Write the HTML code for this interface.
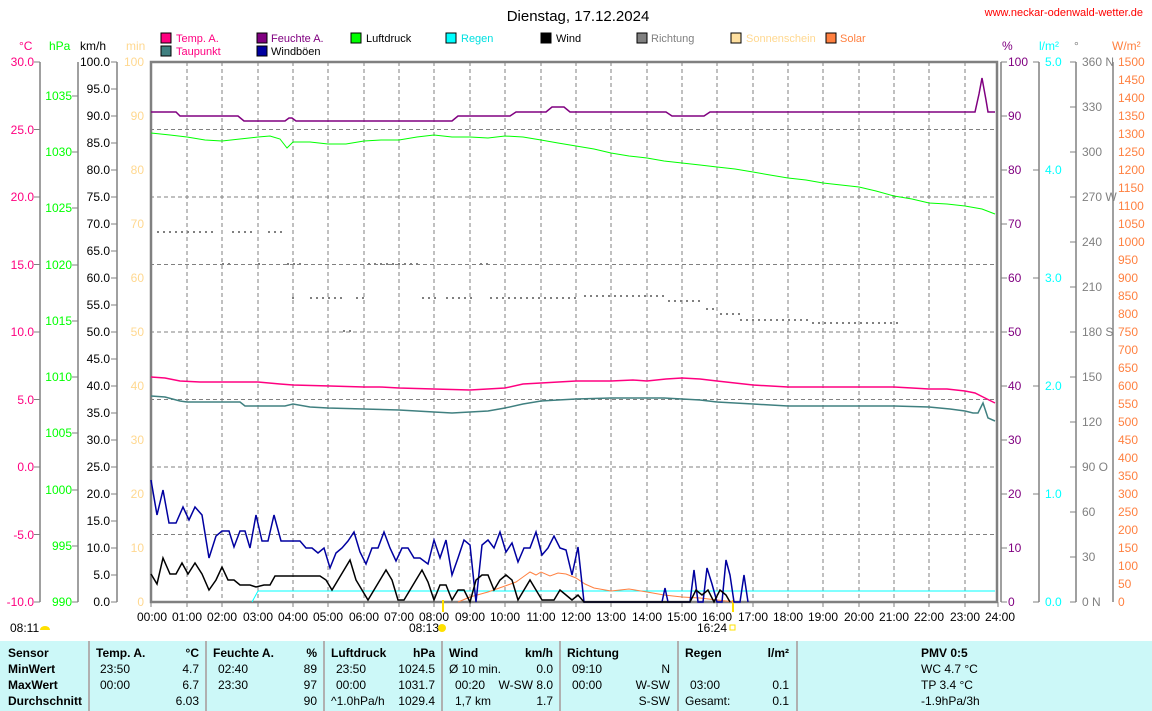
<!DOCTYPE html>
<html><head><meta charset="utf-8"><style>
body{margin:0;width:1152px;height:711px;background:#fff;overflow:hidden;font-family:"Liberation Sans",sans-serif}
svg{position:absolute;left:0;top:0}
text{font-family:"Liberation Sans",sans-serif;font-size:12px}
.tb{position:absolute;left:0;top:641px;width:1152px;height:70px;background:#ccf8f8;font-size:12px}
.c{position:absolute;top:0;height:70px;border-left:2px solid #b0b0b0}
.r{position:absolute;white-space:nowrap}
.b{font-weight:bold}
</style></head><body>
<svg width="1152" height="711" viewBox="0 0 1152 711">
<text x="578" y="21" font-size="15" text-anchor="middle" style="font-size:15px">Dienstag, 17.12.2024</text>
<text x="1143" y="16" text-anchor="end" fill="#ff0000" style="font-size:11px">www.neckar-odenwald-wetter.de</text>
<g style="font-size:11px">
<rect x="161" y="33" width="10" height="10" fill="#ff0080" stroke="#000"/><text x="176" y="42" fill="#ff0080" style="font-size:11px">Temp. A.</text>
<rect x="161" y="46" width="10" height="10" fill="#408080" stroke="#000"/><text x="176" y="55" fill="#ff0080" style="font-size:11px">Taupunkt</text>
<rect x="257" y="33" width="10" height="10" fill="#800080" stroke="#000"/><text x="271" y="42" fill="#800080" style="font-size:11px">Feuchte A.</text>
<rect x="257" y="46" width="10" height="10" fill="#0000a0" stroke="#000"/><text x="271" y="55" style="font-size:11px">Windböen</text>
<rect x="351" y="33" width="10" height="10" fill="#00ff00" stroke="#000"/><text x="366" y="42" style="font-size:11px">Luftdruck</text>
<rect x="446" y="33" width="10" height="10" fill="#00ffff" stroke="#000"/><text x="461" y="42" fill="#00e0e0" style="font-size:11px">Regen</text>
<rect x="541" y="33" width="10" height="10" fill="#000" stroke="#000"/><text x="556" y="42" style="font-size:11px">Wind</text>
<rect x="637" y="33" width="10" height="10" fill="#808080" stroke="#000"/><text x="651" y="42" fill="#808080" style="font-size:11px">Richtung</text>
<rect x="731" y="33" width="10" height="10" fill="#ffe0a0" stroke="#000"/><text x="746" y="42" fill="#ffd890" style="font-size:11px">Sonnenschein</text>
<rect x="826" y="33" width="10" height="10" fill="#ff8040" stroke="#000"/><text x="840" y="42" fill="#ff8040" style="font-size:11px">Solar</text>
</g>
<text x="19" y="50" fill="#ff0080">°C</text><text x="49" y="50" fill="#00ff00">hPa</text><text x="80" y="50">km/h</text><text x="126" y="50" fill="#ffd890">min</text>
<text x="1002" y="50" fill="#800080">%</text><text x="1039" y="50" fill="#00ffff">l/m²</text><text x="1074" y="50" fill="#808080">°</text><text x="1112" y="50" fill="#ff8040">W/m²</text>
<g stroke="#808080" stroke-width="1.5" fill="none">
<line x1="40" y1="62" x2="40" y2="602"/><line x1="78" y1="62" x2="78" y2="602"/><line x1="117" y1="62" x2="117" y2="602"/>
<line x1="1001" y1="62" x2="1001" y2="602"/><line x1="1039" y1="62" x2="1039" y2="602"/><line x1="1076" y1="62" x2="1076" y2="602"/><line x1="1113" y1="62" x2="1113" y2="602"/>
</g>
<g fill="#ff0080" text-anchor="end">
<text x="34" y="66">30.0</text><text x="34" y="134">25.0</text><text x="34" y="201">20.0</text><text x="34" y="269">15.0</text><text x="34" y="336">10.0</text><text x="34" y="404">5.0</text><text x="34" y="471">0.0</text><text x="34" y="539">-5.0</text><text x="34" y="606">-10.0</text></g>
<g stroke="#808080"><path d="M34 62h6M34 129.5h6M34 197h6M34 264.5h6M34 332h6M34 399.5h6M34 467h6M34 534.5h6M34 602h6M72 96h6M72 152h6M72 208h6M72 265h6M72 321h6M72 377h6M72 433h6M72 490h6M72 546h6M72 602h6"/></g>
<g fill="#00ff00" text-anchor="end">
<text x="72" y="100">1035</text><text x="72" y="156">1030</text><text x="72" y="212">1025</text><text x="72" y="269">1020</text><text x="72" y="325">1015</text><text x="72" y="381">1010</text><text x="72" y="437">1005</text><text x="72" y="494">1000</text><text x="72" y="550">995</text><text x="72" y="606">990</text></g>
<g text-anchor="end">
<text x="110" y="66">100.0</text><text x="110" y="93">95.0</text><text x="110" y="120">90.0</text><text x="110" y="147">85.0</text><text x="110" y="174">80.0</text><text x="110" y="201">75.0</text><text x="110" y="228">70.0</text><text x="110" y="255">65.0</text><text x="110" y="282">60.0</text><text x="110" y="309">55.0</text><text x="110" y="336">50.0</text><text x="110" y="363">45.0</text><text x="110" y="390">40.0</text><text x="110" y="417">35.0</text><text x="110" y="444">30.0</text><text x="110" y="471">25.0</text><text x="110" y="498">20.0</text><text x="110" y="525">15.0</text><text x="110" y="552">10.0</text><text x="110" y="579">5.0</text><text x="110" y="606">0.0</text></g>
<path stroke="#808080" d="M111 62h6M111 89h6M111 116h6M111 143h6M111 170h6M111 197h6M111 224h6M111 251h6M111 278h6M111 305h6M111 332h6M111 359h6M111 386h6M111 413h6M111 440h6M111 467h6M111 494h6M111 521h6M111 548h6M111 575h6M111 602h6"/>
<g fill="#ffd890" text-anchor="end">
<text x="144" y="66">100</text><text x="144" y="120">90</text><text x="144" y="174">80</text><text x="144" y="228">70</text><text x="144" y="282">60</text><text x="144" y="336">50</text><text x="144" y="390">40</text><text x="144" y="444">30</text><text x="144" y="498">20</text><text x="144" y="552">10</text><text x="144" y="606">0</text></g>
<g fill="#800080">
<text x="1008" y="66">100</text><text x="1008" y="120">90</text><text x="1008" y="174">80</text><text x="1008" y="228">70</text><text x="1008" y="282">60</text><text x="1008" y="336">50</text><text x="1008" y="390">40</text><text x="1008" y="444">30</text><text x="1008" y="498">20</text><text x="1008" y="552">10</text><text x="1008" y="606">0</text></g>
<path stroke="#808080" d="M1001 62h6M1001 116h6M1001 170h6M1001 224h6M1001 278h6M1001 332h6M1001 386h6M1001 440h6M1001 494h6M1001 548h6M1001 602h6M1033 62h6M1033 170h6M1033 278h6M1033 386h6M1033 494h6M1033 602h6M1070 62h6M1070 107h6M1070 152h6M1070 197h6M1070 242h6M1070 287h6M1070 332h6M1070 377h6M1070 422h6M1070 467h6M1070 512h6M1070 557h6M1070 602h6"/>
<g fill="#00ffff">
<text x="1045" y="66">5.0</text><text x="1045" y="174">4.0</text><text x="1045" y="282">3.0</text><text x="1045" y="390">2.0</text><text x="1045" y="498">1.0</text><text x="1045" y="606">0.0</text></g>
<g fill="#808080">
<text x="1082" y="66">360 N</text><text x="1082" y="111">330</text><text x="1082" y="156">300</text><text x="1082" y="201">270 W</text><text x="1082" y="246">240</text><text x="1082" y="291">210</text><text x="1082" y="336">180 S</text><text x="1082" y="381">150</text><text x="1082" y="426">120</text><text x="1082" y="471">90  O</text><text x="1082" y="516">60</text><text x="1082" y="561">30</text><text x="1082" y="606">0   N</text></g>
<g fill="#ff8040" style="font-size:11.5px">
<text x="1118" y="66">1500</text><text x="1118" y="84">1450</text><text x="1118" y="102">1400</text><text x="1118" y="120">1350</text><text x="1118" y="138">1300</text><text x="1118" y="156">1250</text><text x="1118" y="174">1200</text><text x="1118" y="192">1150</text><text x="1118" y="210">1100</text><text x="1118" y="228">1050</text><text x="1118" y="246">1000</text><text x="1118" y="264">950</text><text x="1118" y="282">900</text><text x="1118" y="300">850</text><text x="1118" y="318">800</text><text x="1118" y="336">750</text><text x="1118" y="354">700</text><text x="1118" y="372">650</text><text x="1118" y="390">600</text><text x="1118" y="408">550</text><text x="1118" y="426">500</text><text x="1118" y="444">450</text><text x="1118" y="462">400</text><text x="1118" y="480">350</text><text x="1118" y="498">300</text><text x="1118" y="516">250</text><text x="1118" y="534">200</text><text x="1118" y="552">150</text><text x="1118" y="570">100</text><text x="1118" y="588">50</text><text x="1118" y="606">0</text></g>
<g stroke="#808080" stroke-dasharray="4,3">
<path d="M187 62V602M222 62V602M258 62V602M293 62V602M328 62V602M364 62V602M399 62V602M434 62V602M470 62V602M505 62V602M541 62V602M576 62V602M611 62V602M647 62V602M682 62V602M717 62V602M753 62V602M788 62V602M823 62V602M859 62V602M894 62V602M929 62V602M965 62V602"/>
<path d="M150 129.5H998M150 197H998M150 264.5H998M150 332H998M150 399.5H998M150 467H998M150 534.5H998"/>
</g>
<rect x="151" y="62" width="846" height="540" fill="none" stroke="#808080" stroke-width="2.5"/>
<path stroke="#808080" d="M151 602v5M187 602v5M222 602v5M258 602v5M293 602v5M328 602v5M364 602v5M399 602v5M434 602v5M470 602v5M505 602v5M541 602v5M576 602v5M611 602v5M647 602v5M682 602v5M717 602v5M753 602v5M788 602v5M823 602v5M859 602v5M894 602v5M929 602v5M965 602v5M998 602v5"/>
<g text-anchor="middle">
<text x="152" y="621">00:00</text><text x="187" y="621">01:00</text><text x="222" y="621">02:00</text><text x="258" y="621">03:00</text><text x="293" y="621">04:00</text><text x="328" y="621">05:00</text><text x="364" y="621">06:00</text><text x="399" y="621">07:00</text><text x="434" y="621">08:00</text><text x="470" y="621">09:00</text><text x="505" y="621">10:00</text><text x="541" y="621">11:00</text><text x="576" y="621">12:00</text><text x="611" y="621">13:00</text><text x="647" y="621">14:00</text><text x="682" y="621">15:00</text><text x="717" y="621">16:00</text><text x="753" y="621">17:00</text><text x="788" y="621">18:00</text><text x="823" y="621">19:00</text><text x="859" y="621">20:00</text><text x="894" y="621">21:00</text><text x="929" y="621">22:00</text><text x="965" y="621">23:00</text><text x="1000" y="621">24:00</text></g>
<text x="10" y="632">08:11</text><path d="M40 630a5 4 0 0 1 10 0z" fill="#ffe000"/>
<text x="409" y="632">08:13</text><circle cx="442" cy="628" r="4" fill="#ffe000"/>
<text x="697" y="632">16:24</text><rect x="730" y="625" width="5" height="5" fill="none" stroke="#ffe000"/>
<path stroke="#ffe000" stroke-width="2" d="M443 600v12M733 600v12"/>
<g stroke="#808080" stroke-width="2" stroke-dasharray="2,4" fill="none">
<path d="M157 232H217M232 232H254M268 232H284M222 264H232M258 264H264M287 264H304M368 264H420M480 264H490M292 298H296M310 298H342M356 298H364M422 298H440M446 298H472M490 298H576M584 296H664M668 301H704M706 309H716M720 314H740M740 320H810M812 323H902M343 331H354"/>
</g>
<polyline fill="none" stroke="#800080" stroke-width="1.5" points="151,112 176,112 180,116 238,116 244,121 285,121 289,118 292,118 296,121 452,121 458,116 510,116 516,112 546,112 552,107 564,107 570,112 666,112 672,116 704,116 710,112 975,112 979,94 982,78 986,100 988,112 995,112"/>
<polyline fill="none" stroke="#00ff00" stroke-width="1" points="151,133 170,135 187,137 205,140 222,141 240,139 258,137 270,136 280,139 287,148 293,142 310,142 328,144 346,144 364,141 381,140 399,140 417,137 434,135 452,137 470,137 488,138 505,136 523,137 541,140 558,143 576,146 594,149 611,153 629,156 647,158 664,161 682,163 700,165 717,167 735,169 753,172 770,175 788,178 806,180 823,183 841,185 859,187 876,191 894,196 912,199 929,203 947,204 965,206 982,209 995,214"/>
<polyline fill="none" stroke="#ff0080" stroke-width="1.5" points="151,377 165,378 180,381 200,382 258,382 280,384 293,385 330,386 364,387 380,387 399,388 434,389 470,390 505,388 523,384 541,383 576,381 611,381 633,380 647,381 666,379 682,378 700,379 717,381 753,385 788,387 859,387 894,387 912,388 929,389 947,389 965,391 975,393 985,398 995,403"/>
<polyline fill="none" stroke="#408080" stroke-width="1.5" points="151,396 165,397 180,401 187,402 240,402 245,406 285,406 293,404 310,407 328,408 364,409 399,410 434,412 452,413 470,412 488,411 505,408 523,404 541,401 558,400 576,399 611,398 647,398 664,398 682,399 700,400 717,402 753,404 788,406 859,406 894,406 929,407 950,409 965,411 973,413 978,413 983,403 988,418 995,421"/>
<polyline fill="none" stroke="#00ffff" stroke-width="1" points="252,602 258,591 995,591"/>
<polyline fill="none" stroke="#ff8040" stroke-width="1" points="458,602 470,597 488,592 505,586 516,582 523,577 530,572 536,575 541,572 550,576 558,573 566,574 576,578 585,584 594,588 611,591 629,589 647,592 664,595 682,597 700,598 717,600 735,602"/>
<polyline fill="none" stroke="#0000a0" stroke-width="1.5" points="151,480 157,515 163,490 169,523 176,523 183,507 189,520 195,507 202,515 209,558 216,536 222,531 229,531 234,547 240,531 245,531 250,548 256,515 262,541 268,541 274,515 281,541 288,541 300,541 306,548 312,548 318,553 324,548 330,568 336,553 342,548 348,541 354,532 360,552 366,564 372,548 378,548 384,532 390,548 396,561 402,548 408,548 414,558 420,558 428,564 434,540 440,558 446,540 452,575 458,558 464,540 470,545 476,602 482,545 488,540 494,548 500,532 506,552 512,543 518,562 524,548 530,548 536,532 542,555 548,548 554,536 560,548 566,550 572,575 578,547 584,602 590,602 662,602 665,588 668,602 690,602 694,570 698,602 703,602 707,568 712,584 717,602 722,602 726,560 730,575 734,602 740,602 744,575 748,602"/>
<polyline fill="none" stroke="#000" stroke-width="1.5" points="151,574 157,584 163,558 170,574 176,574 182,563 188,574 195,563 202,574 209,590 216,580 222,567 228,580 234,580 240,585 250,585 256,587 264,585 270,585 275,576 320,576 326,580 332,590 338,580 344,570 350,560 356,580 362,590 368,600 374,590 380,580 386,570 392,580 398,600 404,600 410,590 416,580 422,570 428,582 434,600 440,585 446,585 452,600 458,590 464,590 470,602 476,580 482,575 488,575 494,590 500,580 506,575 512,580 518,600 524,590 530,580 536,590 542,600 548,600 554,600 560,590 566,595 572,600 578,595 584,602 690,602 696,590 702,595 708,590 714,602 720,590 726,595 730,602"/>
</svg>
<div class="tb">
<div class="c" style="left:88px"></div><div class="c" style="left:205px"></div><div class="c" style="left:323px"></div><div class="c" style="left:441px"></div><div class="c" style="left:559px"></div><div class="c" style="left:677px"></div><div class="c" style="left:796px"></div>
<div class="r b" style="left:8px;top:5px">Sensor</div><div class="r b" style="left:8px;top:21px">MinWert</div><div class="r b" style="left:8px;top:37px">MaxWert</div><div class="r b" style="left:8px;top:53px">Durchschnitt</div>
<div class="r b" style="left:96px;top:5px">Temp. A.</div><div class="r b" style="right:953px;top:5px">°C</div>
<div class="r" style="left:100px;top:21px">23:50</div><div class="r" style="right:953px;top:21px">4.7</div>
<div class="r" style="left:100px;top:37px">00:00</div><div class="r" style="right:953px;top:37px">6.7</div>
<div class="r" style="right:953px;top:53px">6.03</div>
<div class="r b" style="left:213px;top:5px">Feuchte A.</div><div class="r b" style="right:835px;top:5px">%</div>
<div class="r" style="left:218px;top:21px">02:40</div><div class="r" style="right:835px;top:21px">89</div>
<div class="r" style="left:218px;top:37px">23:30</div><div class="r" style="right:835px;top:37px">97</div>
<div class="r" style="right:835px;top:53px">90</div>
<div class="r b" style="left:331px;top:5px">Luftdruck</div><div class="r b" style="right:717px;top:5px">hPa</div>
<div class="r" style="left:336px;top:21px">23:50</div><div class="r" style="right:717px;top:21px">1024.5</div>
<div class="r" style="left:336px;top:37px">00:00</div><div class="r" style="right:717px;top:37px">1031.7</div>
<div class="r" style="left:331px;top:53px">^1.0hPa/h</div><div class="r" style="right:717px;top:53px">1029.4</div>
<div class="r b" style="left:449px;top:5px">Wind</div><div class="r b" style="right:599px;top:5px">km/h</div>
<div class="r" style="left:449px;top:21px">Ø 10 min.</div><div class="r" style="right:599px;top:21px">0.0</div>
<div class="r" style="left:455px;top:37px">00:20</div><div class="r" style="right:599px;top:37px">W-SW 8.0</div>
<div class="r" style="left:455px;top:53px">1,7 km</div><div class="r" style="right:599px;top:53px">1.7</div>
<div class="r b" style="left:567px;top:5px">Richtung</div>
<div class="r" style="left:572px;top:21px">09:10</div><div class="r" style="right:482px;top:21px">N</div>
<div class="r" style="left:572px;top:37px">00:00</div><div class="r" style="right:482px;top:37px">W-SW</div>
<div class="r" style="right:482px;top:53px">S-SW</div>
<div class="r b" style="left:685px;top:5px">Regen</div><div class="r b" style="right:363px;top:5px">l/m²</div>
<div class="r" style="left:690px;top:37px">03:00</div><div class="r" style="right:363px;top:37px">0.1</div>
<div class="r" style="left:685px;top:53px">Gesamt:</div><div class="r" style="right:363px;top:53px">0.1</div>
<div class="r b" style="left:921px;top:5px">PMV 0:5</div>
<div class="r" style="left:921px;top:21px">WC 4.7 °C</div>
<div class="r" style="left:921px;top:37px">TP 3.4 °C</div>
<div class="r" style="left:921px;top:53px">-1.9hPa/3h</div>
</div>
</body></html>
